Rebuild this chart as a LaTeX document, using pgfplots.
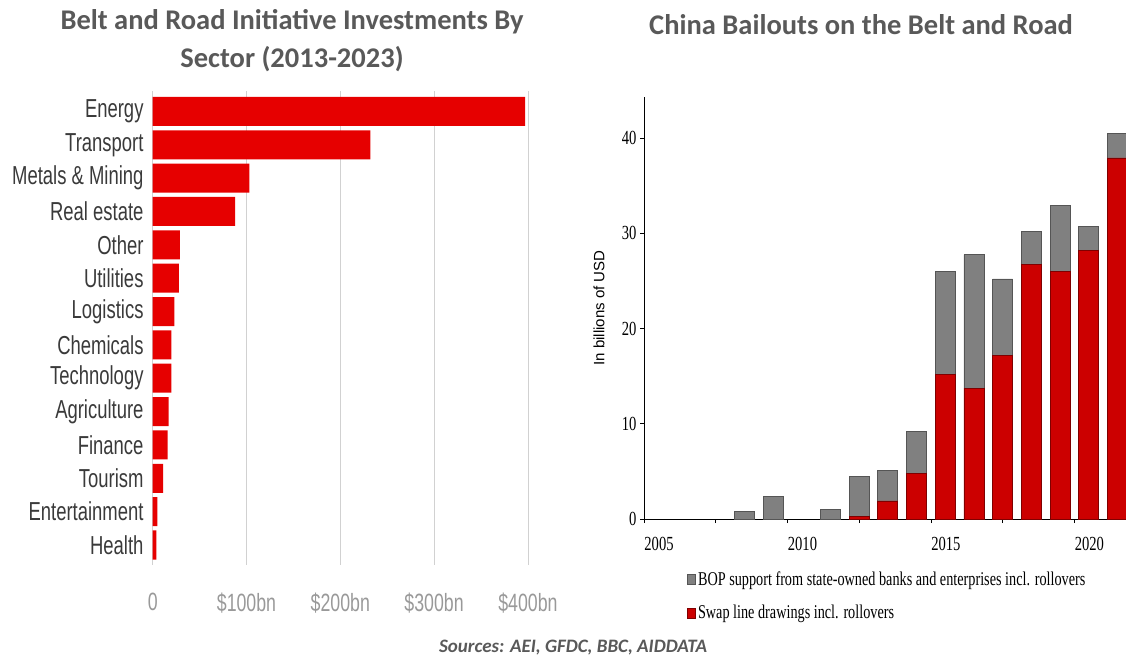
\documentclass[border=0pt]{standalone}
\usepackage{fontspec}
\setmainfont{Liberation Sans}
\newfontfamily\condfont[FakeStretch=0.71]{Liberation Sans}
\newfontfamily\serifcond[FakeStretch=0.73]{Liberation Serif}
\newfontfamily\titlefont{Carlito}
\usepackage{pgfplots}
\pgfplotsset{compat=1.18}
\definecolor{titlegray}{HTML}{595959}
\definecolor{labgray}{HTML}{3A3A3A}
\definecolor{tickgray}{HTML}{999999}
\definecolor{barred}{HTML}{E60000}
\definecolor{swapred}{HTML}{CC0000}
\definecolor{swapedge}{HTML}{7F0000}
\definecolor{bopgray}{HTML}{808080}
\definecolor{bopedge}{HTML}{555555}
\begin{document}
\begin{tikzpicture}
\path[use as bounding box] (0pt,0pt) rectangle (1126pt,657pt);
% titles
\node[font=\titlefont\bfseries\fontsize{28.5}{38}\selectfont, text=titlegray, align=center] at (292pt,616pt) {Belt and Road Initiative Investments By\\Sector (2013-2023)};
\node[font=\titlefont\bfseries\fontsize{28.5}{38}\selectfont, text=titlegray] at (861pt,632pt) {China Bailouts on the Belt and Road};
\node[font=\titlefont\bfseries\itshape\fontsize{19}{22}\selectfont, text=titlegray] at (573pt,9pt) {Sources: AEI, GFDC, BBC, AIDDATA};
% left chart
\begin{axis}[
  at={(152.7pt,92pt)}, anchor=south west,
  scale only axis, width=384.6pt, height=473.6pt,
  xbar, bar width=29pt,
  xmin=0, xmax=410, ymin=-0.6, ymax=13.6, y dir=reverse,
  ytick={0,...,13},
  yticklabels={Energy,Transport,Metals \& Mining,Real estate,Other,Utilities,Logistics,Chemicals,Technology,Agriculture,Finance,Tourism,Entertainment,Health},
  xtick={0,100,200,300,400},
  xticklabels={0,\$100bn,\$200bn,\$300bn,\$400bn},
  xmajorgrids, grid style={black!18, line width=0.8pt},
  axis line style={draw=none},
  major tick length=0pt,
  yticklabel style={font=\condfont\fontsize{26}{30}\selectfont, text=labgray, inner sep=0pt, xshift=-9pt},
  xticklabel style={font=\condfont\fontsize{25}{30}\selectfont, text=tickgray, yshift=-24pt},
]
\addplot[fill=barred, draw=none] coordinates {
(397,0) (232,1) (103,2) (88,3) (29,4) (28,5) (23,6) (20,7) (20,8) (17,9) (16,10) (11,11) (5,12) (4,13)};
\end{axis}
% right chart
\begin{axis}[
  at={(644pt,138pt)}, anchor=south west,
  scale only axis, width=482pt, height=422pt,
  ybar stacked, bar width=20pt,
  xmin=2005, xmax=2021.8, ymin=0, ymax=44.3,
  axis x line*=bottom, axis y line*=left,
  axis line style={black, line width=0.8pt},
  tick align=outside, major tick length=4pt,
  tick style={black, line width=0.8pt},
  xtick={2005,2007.5,...,2020},
  xticklabels={2005,,2010,,2015,,2020},
  ytick={0,10,20,30,40},
  yticklabels={0,10,20,30,40},
  xticklabel style={font=\serifcond\fontsize{20}{22}\selectfont, xshift=15pt, yshift=-11pt},
  yticklabel style={font=\serifcond\fontsize{20}{22}\selectfont},
  ylabel={In billions of USD},
  ylabel style={font=\fontsize{15}{18}\selectfont, at={(-36pt,0.5)}, anchor=south},
  legend style={at={(43pt,-51pt)}, anchor=north west, draw=none, fill=none,
    font=\serifcond\fontsize{19.5}{21}\selectfont, row sep=14pt, inner sep=0pt,
    legend cell align=left},
  legend cell align=left,
  reverse legend,
  legend image code/.code={\draw[#1] (0pt,-5pt) rectangle (8pt,5pt);},
]
\addplot[fill=swapred, draw=swapedge, line width=0.8pt] coordinates {
(2008.5,0) (2009.5,0) (2010.5,0) (2011.5,0) (2012.5,0.3) (2013.5,1.9) (2014.5,4.8) (2015.5,15.2) (2016.5,13.75) (2017.5,17.2) (2018.5,26.7) (2019.5,26.0) (2020.5,28.2) (2021.5,37.9)};
\addlegendentry{Swap line drawings incl. rollovers}
\addplot[fill=bopgray, draw=bopedge, line width=0.8pt] coordinates {
(2008.5,0.8) (2009.5,2.35) (2010.5,0) (2011.5,1.0) (2012.5,4.2) (2013.5,3.2) (2014.5,4.4) (2015.5,10.8) (2016.5,14.0) (2017.5,8.0) (2018.5,3.5) (2019.5,6.9) (2020.5,2.5) (2021.5,2.6)};
\addlegendentry{BOP support from state-owned banks and enterprises incl. rollovers}
\end{axis}
\end{tikzpicture}
\end{document}
